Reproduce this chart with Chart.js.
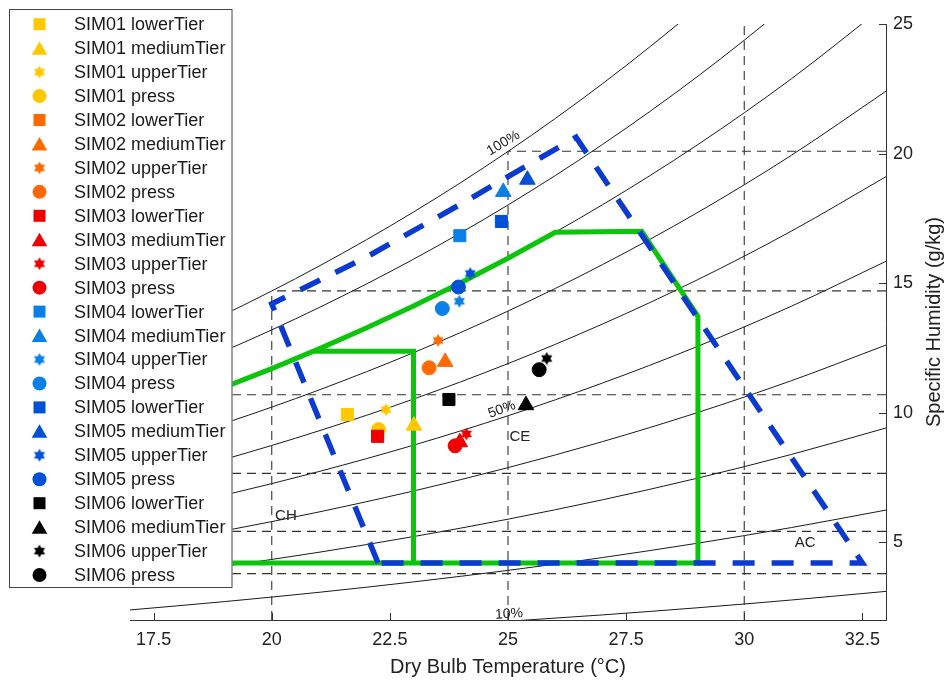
<!DOCTYPE html>
<html>
<head>
<meta charset="utf-8">
<script src="https://cdn.jsdelivr.net/npm/chart.js@4.4.1/dist/chart.umd.min.js"></script>
<style>
html,body{margin:0;padding:0;background:#fff;}
canvas{display:block;}
</style>
</head>
<body>
<canvas id="c" width="947" height="684"></canvas>
<script>
// ---------------- DATA ----------------
const xTicks = [17.5, 20, 22.5, 25, 27.5, 30, 32.5];
const yTicks = [5, 10, 15, 20, 25];

const sims = ['SIM01', 'SIM02', 'SIM03', 'SIM04', 'SIM05', 'SIM06'];
const tiers = ['lowerTier', 'mediumTier', 'upperTier', 'press'];

// dry bulb temperature (°C) and specific humidity (g/kg) per SIM
const lowerTierT  = [21.60, 22.24, 22.24, 23.98, 24.86, 23.75];
const lowerTierW  = [9.93, 9.09, 9.09, 16.83, 17.38, 10.51];
const mediumTierT = [23.01, 23.67, 23.98, 24.90, 25.41, 25.38];
const mediumTierW = [9.50, 11.96, 8.86, 18.52, 18.99, 10.29];
const upperTierT  = [22.42, 23.52, 24.12, 23.97, 24.20, 25.82];
const upperTierW  = [10.12, 12.79, 9.18, 14.30, 15.37, 12.09];
const pressT      = [22.26, 23.33, 23.88, 23.61, 23.95, 25.66];
const pressW      = [9.35, 11.73, 8.72, 14.02, 14.85, 11.66];

// relative humidity curves (g/kg) at these temperatures
const rhTemps = [17, 19, 21, 23, 25, 27, 29, 31, 33];
const rh10  = [1.192, 1.352, 1.531, 1.730, 1.951, 2.197, 2.470, 2.772, 3.105];
const rh20  = [2.388, 2.710, 3.069, 3.470, 3.915, 4.410, 4.960, 5.568, 6.242];
const rh30  = [3.589, 4.074, 4.615, 5.219, 5.891, 6.639, 7.469, 8.390, 9.410];
const rh40  = [4.795, 5.444, 6.169, 6.978, 7.880, 8.884, 9.999, 11.237, 12.610];
const rh50  = [6.005, 6.820, 7.730, 8.747, 9.881, 11.145, 12.550, 14.111, 15.843];
const rh60  = [7.220, 8.202, 9.300, 10.526, 11.895, 13.421, 15.120, 17.010, 19.109];
const rh70  = [8.439, 9.590, 10.877, 12.316, 13.922, 15.715, 17.712, 19.936, 22.408];
const rh80  = [9.664, 10.984, 12.462, 14.115, 15.962, 18.025, 20.325, 22.889, 25.742];
const rh90  = [10.893, 12.384, 14.055, 15.924, 18.015, 20.352, 22.960, 25.869, 29.110];
const rh100 = [12.127, 13.791, 15.656, 17.744, 20.082, 22.696, 25.615, 28.876, 32.514];
const rhCurves = [rh10, rh20, rh30, rh40, rh50, rh60, rh70, rh80, rh90, rh100];

// dashed reference lines
const dryBulbRefT = [20, 25, 30];
const dryBulbRefTopW = [14.70, 20.09, 27.19];
const dewPointRefT = [0, 5, 10, 15, 20, 25];
const dewPointRefW = [3.79, 5.42, 7.66, 10.69, 14.70, 20.09];

// green comfort zones
const comfortOuterT = [17, 18, 19, 20, 21, 22, 23, 24, 25, 26, 27.83, 29.02, 29.02, 17];
const comfortOuterW = [9.664, 10.308, 10.984, 11.702, 12.462, 13.267, 14.115, 15.013, 15.962, 16.966, 17.0, 13.72, 4.2, 4.2];
const comfortInnerT = [20.9, 23.0, 23.0];
const comfortInnerW = [12.37, 12.37, 4.2];

// blue dashed envelope
const envelopeT = [22.25, 20.0, 22.0, 24.0, 26.44, 32.5, 22.25];
const envelopeW = [4.2, 14.2, 16.0, 18.05, 20.63, 4.2, 4.2];

// annotations
const zoneLabels = ['CH', 'CE', 'AC'];
const zoneLabelT = [20.30, 25.25, 31.29];
const zoneLabelW = [6.03, 9.05, 4.99];
const rhLabels = ['100%', '50%', '10%'];
const rhLabelT = [24.90, 24.87, 25.02];
const rhLabelW = [20.40, 10.12, 2.23];

// ---------------- STYLE ----------------
const FONT = "'Liberation Sans', Arial, Helvetica, sans-serif";
Chart.defaults.font.family = FONT;
Chart.defaults.color = '#222';
const simColors = ['#ffc800', '#ff6a00', '#ee0000', '#0a7fe8', '#0050d8', '#000000'];
const tierStyles = ['rect', 'triangle', 'star', 'circle'];
const tierRadius = [8.5, 9, 6, 7];
const rhLabelAngle = [-31, -20, -3];
const GREEN = '#0cc40c';
const BLUE = '#0a3ad0';

function starCanvas(color) {
  const c = document.createElement('canvas');
  c.width = 16; c.height = 16;
  const g = c.getContext('2d');
  const R = 6.4, r = R * 0.577;
  g.beginPath();
  for (let i = 0; i < 12; i++) {
    const a = -Math.PI / 2 + i * Math.PI / 6;
    const rr = i % 2 === 0 ? R : r;
    const px = 8 + rr * Math.cos(a), py = 8 + rr * Math.sin(a);
    if (i === 0) g.moveTo(px, py); else g.lineTo(px, py);
  }
  g.closePath();
  g.fillStyle = color;
  g.fill();
  return c;
}
const starImgs = simColors.map(starCanvas);

// ---------------- DATASETS ----------------
const datasets = [];
const pts = (T, W) => T.map((t, i) => ({x: t, y: W[i]}));

rhCurves.forEach(arr => {
  datasets.push({
    data: pts(rhTemps, arr), showLine: true, borderColor: '#1a1a1a', borderWidth: 1,
    pointRadius: 0, cubicInterpolationMode: 'monotone', order: 1000
  });
});
dryBulbRefT.forEach((t, i) => {
  datasets.push({
    data: [{x: t, y: 2}, {x: t, y: dryBulbRefTopW[i]}], showLine: true, borderColor: '#333',
    borderWidth: 1.1, borderDash: [9, 6], pointRadius: 0, order: 900
  });
});
dewPointRefT.forEach((t, i) => {
  datasets.push({
    data: [{x: 33, y: dewPointRefW[i]}, {x: Math.max(17, t), y: dewPointRefW[i]}], showLine: true,
    borderColor: '#333', borderWidth: 1.1, borderDash: [9, 6], pointRadius: 0, order: 900
  });
});
datasets.push({
  data: pts(comfortOuterT, comfortOuterW), showLine: true, borderColor: GREEN, borderWidth: 5,
  pointRadius: 0, tension: 0, order: 500
});
datasets.push({
  data: pts(comfortInnerT, comfortInnerW), showLine: true, borderColor: GREEN, borderWidth: 5,
  pointRadius: 0, tension: 0, order: 500
});
datasets.push({
  data: pts(envelopeT, envelopeW), showLine: true, borderColor: BLUE, borderWidth: 5.5,
  borderDash: [22, 17], borderCapStyle: 'butt', pointRadius: 0, tension: 0, order: 400
});

const tierT = [lowerTierT, mediumTierT, upperTierT, pressT];
const tierW = [lowerTierW, mediumTierW, upperTierW, pressW];
const markerSets = [];
sims.forEach((s, si) => {
  tiers.forEach((tier, ti) => {
    const st = tierStyles[ti];
    const ds = {
      label: s + ' ' + tier,
      data: [{x: tierT[ti][si], y: tierW[ti][si]}],
      showLine: false,
      pointStyle: st === 'star' ? starImgs[si] : st,
      pointRadius: tierRadius[ti],
      pointBackgroundColor: simColors[si],
      pointBorderColor: simColors[si],
      pointBorderWidth: 1,
      backgroundColor: simColors[si],
      borderColor: simColors[si],
      order: 100 - (si * 4 + ti),
      _style: st, _color: simColors[si], _star: starImgs[si]
    };
    datasets.push(ds);
    markerSets.push(ds);
  });
});

// ---------------- PLUGIN ----------------
function drawMarker(ctx, st, x, y, color, img) {
  ctx.fillStyle = color;
  ctx.beginPath();
  if (st === 'rect') {
    ctx.fillRect(x - 6, y - 6, 12, 12);
  } else if (st === 'triangle') {
    const r = 9, yy = y + 2;
    ctx.moveTo(x, yy - r);
    ctx.lineTo(x + r * 0.866, yy + r / 2);
    ctx.lineTo(x - r * 0.866, yy + r / 2);
    ctx.closePath();
    ctx.fill();
  } else if (st === 'circle') {
    ctx.arc(x, y, 7, 0, Math.PI * 2);
    ctx.fill();
  } else if (st === 'star') {
    ctx.drawImage(img, x - img.width / 2, y - img.height / 2);
  }
}

const decor = {
  id: 'decor',
  afterDatasetsDraw(chart) {
    const {ctx, chartArea: a} = chart;
    const x = chart.scales.x, y = chart.scales.y;
    ctx.save();
    // inward tick marks
    ctx.strokeStyle = '#333';
    ctx.lineWidth = 1;
    ctx.beginPath();
    xTicks.forEach(v => {
      const px = Math.round(x.getPixelForValue(v)) + 0.5;
      ctx.moveTo(px, a.bottom); ctx.lineTo(px, a.bottom - 7);
    });
    yTicks.forEach(v => {
      const py = Math.round(y.getPixelForValue(v)) + 0.5;
      ctx.moveTo(a.right, py); ctx.lineTo(a.right - 7, py);
    });
    ctx.stroke();
    // zone labels
    ctx.fillStyle = '#222';
    ctx.textAlign = 'center';
    ctx.textBaseline = 'middle';
    ctx.font = '15px ' + FONT;
    zoneLabels.forEach((t, i) => {
      ctx.fillText(t, x.getPixelForValue(zoneLabelT[i]), y.getPixelForValue(zoneLabelW[i]));
    });
    // RH labels
    ctx.font = '14px ' + FONT;
    rhLabels.forEach((t, i) => {
      ctx.save();
      ctx.translate(x.getPixelForValue(rhLabelT[i]), y.getPixelForValue(rhLabelW[i]));
      ctx.rotate(rhLabelAngle[i] * Math.PI / 180);
      ctx.fillText(t, 0, 0);
      ctx.restore();
    });
    ctx.restore();
  },
  afterDraw(chart) {
    const {ctx, chartArea: a} = chart;
    ctx.save();
    // legend box
    const L = 9, T = 9, R = 232.5, B = 588;
    ctx.fillStyle = '#fff';
    ctx.fillRect(L, T, R - L, B - T);
    ctx.strokeStyle = '#444';
    ctx.lineWidth = 1;
    ctx.strokeRect(L + 0.5, T + 0.5, R - L - 1, B - T - 1);
    ctx.font = '18px ' + FONT;
    ctx.textAlign = 'left';
    ctx.textBaseline = 'middle';
    markerSets.forEach((ds, i) => {
      const yy = 24.2 + i * 23.95;
      drawMarker(ctx, ds._style, 39.5, yy, ds._color, ds._star);
      ctx.fillStyle = '#1a1a1a';
      ctx.fillText(ds.label, 74, yy + 1);
    });
    // right axis title (reads bottom to top)
    ctx.save();
    ctx.translate(934, (a.top + a.bottom) / 2);
    ctx.rotate(-Math.PI / 2);
    ctx.textAlign = 'center';
    ctx.textBaseline = 'middle';
    ctx.fillStyle = '#222';
    ctx.font = '20px ' + FONT;
    ctx.fillText('Specific Humidity (g/kg)', 0, 0);
    ctx.restore();
    ctx.restore();
  }
};

// ---------------- CHART ----------------
new Chart(document.getElementById('c'), {
  type: 'scatter',
  data: {datasets},
  options: {
    responsive: false,
    animation: false,
    devicePixelRatio: 1,
    layout: {padding: {left: 130, top: 24, right: 0, bottom: 0}},
    plugins: {legend: {display: false}, tooltip: {enabled: false}},
    events: [],
    scales: {
      x: {
        type: 'linear', position: 'bottom', min: 17, max: 33,
        afterFit: s => { s.height = 64; },
        afterBuildTicks: s => { s.ticks = xTicks.map(v => ({value: v})); },
        grid: {drawOnChartArea: false, drawTicks: false},
        border: {display: true, color: '#333', width: 1},
        ticks: {padding: 9, color: '#222', font: {size: 18}, maxRotation: 0, autoSkip: false,
                callback: v => String(v)},
        title: {display: true, text: 'Dry Bulb Temperature (°C)', color: '#222',
                font: {size: 20}, padding: {top: 0, bottom: 5}}
      },
      y: {
        type: 'linear', position: 'right', min: 2, max: 25,
        afterFit: s => { s.width = 61; },
        afterBuildTicks: s => { s.ticks = yTicks.map(v => ({value: v})); },
        grid: {drawOnChartArea: false, drawTicks: false},
        border: {display: true, color: '#333', width: 1},
        ticks: {padding: 7, color: '#222', font: {size: 18}, autoSkip: false,
                callback: v => String(v)},
        title: {display: false}
      }
    }
  },
  plugins: [decor]
});
</script>
</body>
</html>
